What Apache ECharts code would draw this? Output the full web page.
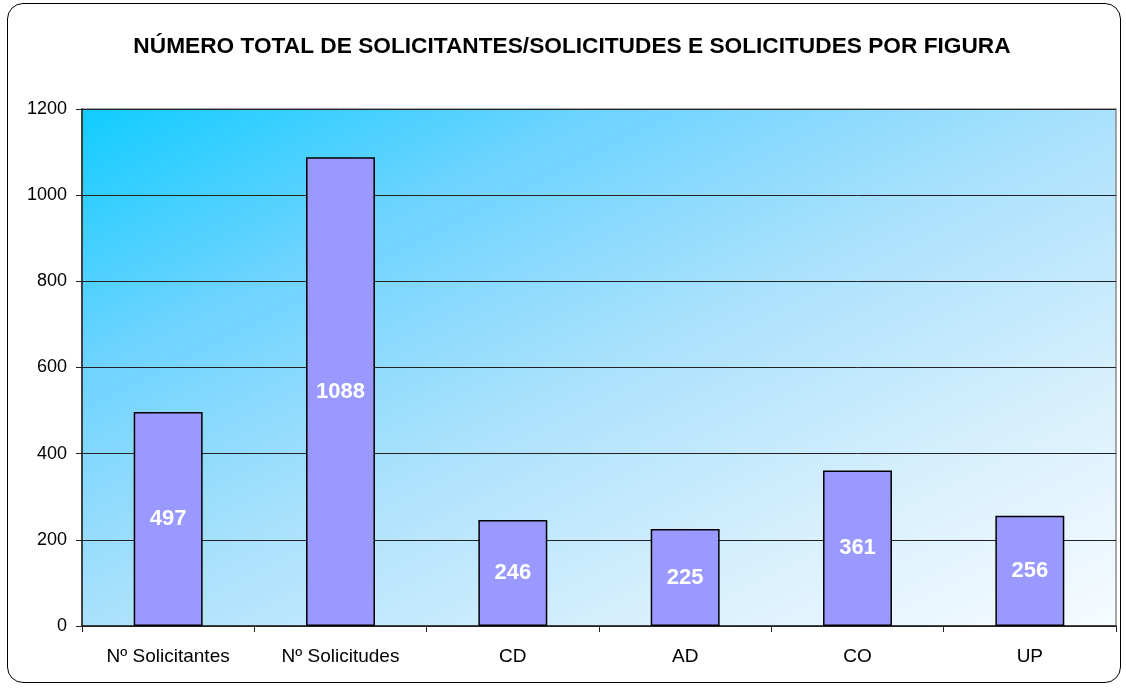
<!DOCTYPE html>
<html>
<head>
<meta charset="utf-8">
<script src="https://cdn.jsdelivr.net/npm/echarts@6/dist/echarts.min.js"></script>
<style>
  html, body { margin: 0; padding: 0; background: #fff; }
  #box {
    position: absolute; left: 7px; top: 3px; width: 1114px; height: 680px;
    border: 1px solid #000; border-radius: 16px; box-sizing: border-box;
  }
  #chart { width: 1126px; height: 688px; }
</style>
</head>
<body>
<div id="box"></div>
<div id="chart"></div>
<script>
var categories = ['Nº Solicitantes', 'Nº Solicitudes', 'CD', 'AD', 'CO', 'UP'];
var values = [497, 1088, 246, 225, 361, 256];
var yTicks = { min: 0, max: 1200, interval: 200 };

var chart = echarts.init(document.getElementById('chart'));
var option = {
    animation: false,
    title: {
        text: 'NÚMERO TOTAL DE SOLICITANTES/SOLICITUDES E SOLICITUDES POR FIGURA',
        left: 567,
        textAlign: 'center',
        top: 30,
        textStyle: {
            fontFamily: 'Liberation Sans, Arial',
            fontSize: 22.7,
            fontWeight: 'bold',
            color: '#000'
        }
    },
    grid: {
        left: 82,
        right: 10,
        top: 109,
        bottom: 62,
        show: true,
        borderColor: '#8c8c8c',
        borderWidth: 1.5,
        // diagonal of the plot box (isolines along the box's anti-diagonal)
        backgroundColor: new echarts.graphic.LinearGradient(0, 0, 0.4, 1.6, [
            { offset: 0, color: '#10ccff' },
            { offset: 0.25, color: '#6dd3ff' },
            { offset: 0.5, color: '#aae1fc' },
            { offset: 0.75, color: '#d6effd' },
            { offset: 1, color: '#f8fcff' }
        ])
    },
    xAxis: {
        type: 'category',
        data: categories,
        axisLine: { lineStyle: { color: '#222', width: 1.5 } },
        axisTick: { show: true, length: 6, lineStyle: { color: '#222' } },
        axisLabel: {
            color: '#000',
            fontSize: 19,
            fontFamily: 'Liberation Sans, Arial',
            margin: 21
        }
    },
    yAxis: {
        type: 'value',
        min: yTicks.min,
        max: yTicks.max,
        interval: yTicks.interval,
        axisLine: { show: true, lineStyle: { color: '#222', width: 1.5 } },
        axisTick: { show: true, length: 6, lineStyle: { color: '#222' } },
        splitLine: { lineStyle: { color: '#222', width: 1 } },
        axisLabel: {
            color: '#000',
            fontSize: 18,
            fontFamily: 'Liberation Sans, Arial',
            margin: 15,
            formatter: function (v) { return String(v); }
        }
    },
    series: [{
        type: 'bar',
        data: values,
        barWidth: '40%',
        itemStyle: {
            color: '#9999ff',
            borderColor: '#000',
            borderWidth: 1.5
        },
        label: {
            show: true,
            position: 'inside',
            color: '#fff',
            fontSize: 22,
            fontWeight: 'bold',
            fontFamily: 'Liberation Sans, Arial'
        }
    }]
};
chart.setOption(option);
window.addEventListener('resize', function () {
    chart.resize();
});
</script>
</body>
</html>
